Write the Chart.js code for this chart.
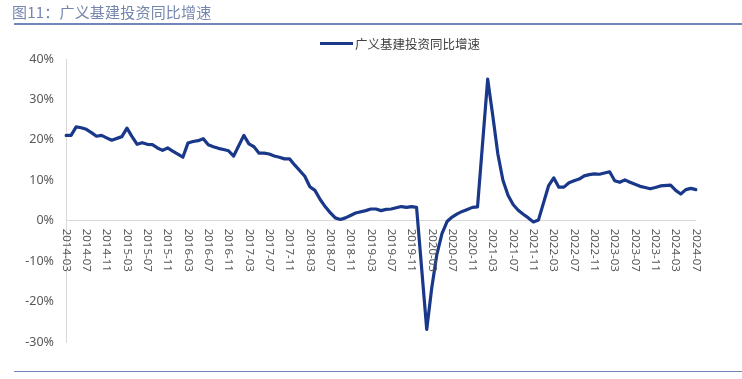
<!DOCTYPE html>
<html><head><meta charset="utf-8">
<script src="https://cdn.jsdelivr.net/npm/chart.js@4/dist/chart.umd.min.js"></script>
<style>
html,body{margin:0;padding:0;background:#fff;}
#wrap{position:relative;width:742px;height:379px;overflow:hidden;font-family:"Noto Sans CJK SC","Noto Sans",sans-serif;}
#title{position:absolute;left:12px;top:1px;font-size:15px;color:#7586ad;letter-spacing:0.2px;}
#rule{position:absolute;left:14px;right:0;top:23px;height:2px;background:#7386bb;}
#rule2{position:absolute;left:14px;right:0;top:371px;height:1px;background:#7386bb;}
#legend{position:absolute;left:320px;top:34px;font-size:12.5px;color:#404040;display:flex;align-items:center;}
#legend span.sw{display:inline-block;width:33px;height:3px;background:#1b3a8c;margin-right:2px;}
canvas{position:absolute;left:0;top:0;}
</style></head>
<body>
<div id="wrap">
<canvas id="c" width="742" height="379"></canvas>
<div id="title">图11：广义基建投资同比增速</div>
<div id="rule"></div>
<div id="rule2"></div>
<div id="legend"><span class="sw"></span><span id="legtxt"></span></div>
</div>
<script>
const seriesName = '广义基建投资同比增速';
// months 2014-03 .. 2024-07 (January values not published -> null)
const categories = [];
for (let y = 2014; y <= 2024; y++) {
  for (let m = 1; m <= 12; m++) {
    if (y === 2014 && m < 3) continue;
    if (y === 2024 && m > 7) continue;
    categories.push(y + '-' + String(m).padStart(2, '0'));
  }
}
const v2014 = [21.1, 21.1, 23.2, 23.0, 22.6, 21.8, 20.9, 21.1, 20.5, 19.9]; // Mar-Dec
const v2015 = [null, 20.8, 22.9, 20.8, 18.9, 19.3, 18.9, 18.8, 18.0, 17.4, 18.0, 17.2];
const v2016 = [null, 15.7, 19.2, 19.6, 19.8, 20.3, 18.8, 18.3, 17.9, 17.6, 17.3, 16.0];
const v2017 = [null, 21.1, 19.0, 18.3, 16.7, 16.7, 16.5, 16.0, 15.7, 15.3, 15.3, 13.8];
const v2018 = [null, 11.0, 8.4, 7.5, 5.3, 3.5, 2.0, 0.7, 0.3, 0.7, 1.3, 1.9];
const v2019 = [null, 2.5, 2.9, 2.9, 2.5, 2.8, 2.9, 3.2, 3.5, 3.3, 3.5, 3.3];
const v2020 = [null, -26.9, -16.5, -8.3, -3.2, -0.2, 0.9, 1.7, 2.3, 2.8, 3.3, 3.4];
const v2021 = [null, 35.0, 26.0, 16.5, 10.0, 6.3, 4.0, 2.6, 1.6, 0.7, -0.3, 0.2];
const v2022 = [null, 8.7, 10.6, 8.3, 8.3, 9.4, 9.9, 10.3, 11.1, 11.4, 11.6, 11.5];
const v2023 = [null, 12.1, 9.9, 9.5, 10.1, 9.5, 9.0, 8.5, 8.2, 7.9, 8.2, 8.6];
const v2024 = [null, 8.8, 7.5, 6.6, 7.7, 8.0, 7.7]; // Jan-Jul
const values = [].concat(v2014, v2015, v2016, v2017, v2018, v2019, v2020, v2021, v2022, v2023, v2024);
const tickLabels = ['2014-03','2014-07','2014-11','2015-03','2015-07','2015-11','2016-03','2016-07','2016-11',
  '2017-03','2017-07','2017-11','2018-03','2018-07','2018-11','2019-03','2019-07','2019-11','2020-03','2020-07',
  '2020-11','2021-03','2021-07','2021-11','2022-03','2022-07','2022-11','2023-03','2023-07','2023-11','2024-03','2024-07'];
const yTicks = [-30, -20, -10, 0, 10, 20, 30, 40];

document.getElementById('legtxt').textContent = seriesName;

const xLabelPlugin = {
  id: 'xLabels',
  afterDraw(chart) {
    const ctx = chart.ctx, xs = chart.scales.x, ys = chart.scales.y;
    const y0 = ys.getPixelForValue(0) + 8;
    ctx.save();
    ctx.fillStyle = '#595959';
    ctx.font = '11.5px "Noto Sans", "Liberation Sans", sans-serif';
    ctx.textAlign = 'left';
    ctx.textBaseline = 'middle';
    tickLabels.forEach(lb => {
      const i = categories.indexOf(lb);
      const x = xs.getPixelForValue(i);
      ctx.save();
      ctx.translate(x, y0);
      ctx.rotate(Math.PI / 2);
      ctx.fillText(lb, 0, 0);
      ctx.restore();
    });
    ctx.restore();
  }
};

new Chart(document.getElementById('c'), {
  type: 'line',
  data: {
    labels: categories,
    datasets: [{
      label: seriesName,
      data: values,
      borderColor: '#1a388a',
      backgroundColor: '#1a388a',
      borderWidth: 3.2,
      pointRadius: 0,
      tension: 0,
      spanGaps: true,
      borderJoinStyle: 'round',
      borderCapStyle: 'round'
    }]
  },
  options: {
    responsive: false,
    animation: false,
    layout: { padding: { top: 59, right: 46, bottom: 37, left: 0 } },
    plugins: { legend: { display: false }, tooltip: { enabled: false } },
    scales: {
      x: { type: 'category', display: false, offset: false },
      y: {
        min: -30, max: 40,
        afterBuildTicks: s => { s.ticks = yTicks.map(v => ({ value: v })); },
        afterFit: s => { s.width = 66; },
        ticks: {
          padding: 12,
          color: '#595959',
          font: { size: 12.5, family: '"Noto Sans", "Liberation Sans", sans-serif' },
          callback: v => v + '%'
        },
        grid: {
          drawTicks: false,
          lineWidth: 1,
          color: ctx => (ctx.tick && ctx.tick.value === 0) ? '#d9d9d9' : 'rgba(0,0,0,0)'
        },
        border: { display: true, color: '#d9d9d9', width: 1 }
      }
    }
  },
  plugins: [xLabelPlugin]
});
</script>
</body></html>
